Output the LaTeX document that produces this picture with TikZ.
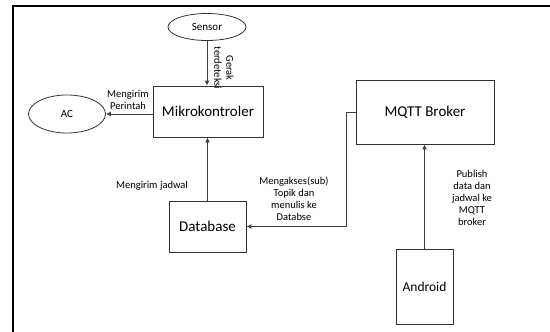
\documentclass[tikz,border=0pt]{standalone}
\usepackage{fontspec}
\setmainfont{Carlito}
\usetikzlibrary{arrows.meta,shapes.geometric}
\begin{document}
\begin{tikzpicture}[x=1pt,y=-1pt,
  box/.style={draw=black!80,line width=0.8pt,rectangle,inner sep=0pt,font=\fontsize{15}{18}\selectfont},
  oval/.style={draw=black!80,line width=0.8pt,ellipse,inner sep=0pt,font=\fontsize{11}{12}\selectfont},
  conn/.style={draw=black!75,line width=1pt,-{Latex[length=5pt,width=5pt]}},
  lbl/.style={font=\fontsize{10.5}{12}\selectfont,align=center,inner sep=0pt}]
\useasboundingbox (0,0) rectangle (550,332);
\draw[line width=2.2pt] (13,333) -- (13,6) -- (551,6);
\node[oval,minimum width=78pt,minimum height=27pt] (sensor) at (207,27) {Sensor};
\node[oval,minimum width=77pt,minimum height=38pt] (ac) at (67,114) {AC};
\node[box,minimum width=110pt,minimum height=51pt] (mk) at (208,111.5) {Mikrokontroler};
\node[box,minimum width=77pt,minimum height=51pt] (db) at (207.5,226.5) {Database};
\node[box,minimum width=138pt,minimum height=64pt] (mq) at (425,112) {MQTT Broker};
\node[box,minimum width=57pt,minimum height=75pt,font=\fontsize{13.5}{16}\selectfont] (an) at (424.5,286.5) {Android};
\draw[conn] (sensor.south) -- (sensor.south |- mk.north);
\draw[conn] (mk.west |- ac.east) -- (ac.east);
\draw[conn] (db.north) -- (db.north |- mk.south);
\coordinate (bend1) at (346,112);
\coordinate (bend2) at (346,226.5);
\draw[conn] (mq.west |- bend1) -- (bend1) -- (bend2) -- (db.east |- bend2);
\draw[conn] (an.north) -- (an.north |- mq.south);
\node[lbl,rotate=-90] (l1) at (224,68) {Gerak\\terdeteksi};
\node[lbl] (l2) at (128,99.5) {Mengirim\\Perintah};
\node[lbl] (l3) at (152,186) {Mengirim jadwal};
\node[lbl] (l4) at (294,199) {Mengakses(sub)\\Topik dan\\menulis ke\\Databse};
\node[lbl] (l5) at (472,198) {Publish\\data dan\\jadwal ke\\MQTT\\broker};
\end{tikzpicture}
\end{document}
